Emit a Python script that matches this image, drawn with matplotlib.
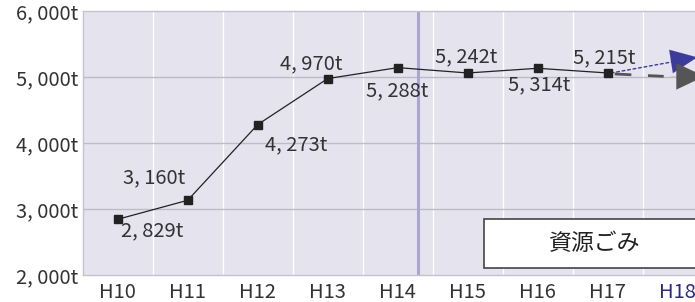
import numpy as np
import matplotlib
matplotlib.use("Agg")
import matplotlib.pyplot as plt
from matplotlib.patches import Rectangle

plt.rcParams['font.family'] = ['Noto Sans CJK JP', 'DejaVu Sans']

# データ
years = ['H10', 'H11', 'H12', 'H13', 'H14', 'H15', 'H16', 'H17', 'H18']
amount = [2844, 3132, 4279, 4976, 5142, 5061, 5132, 5061]
labels = ['2, 829t', '3, 160t', '4, 273t', '4, 970t', '5, 288t', '5, 242t', '5, 314t', '5, 215t']
label_offsets = [(34, -12), (-34, 22), (38, -20), (-16, 15), (-1, -23), (-2, 16), (1, -17), (-3, 15)]
yticks = [2000, 3000, 4000, 5000, 6000]
ytick_labels = ['2, 000t', '3, 000t', '4, 000t', '5, 000t', '6, 000t']
trend_up = 5298
trend_flat = 5010

fig = plt.figure(figsize=(6.95, 3.02), dpi=100)
ax = fig.add_axes([82.7 / 695, 27 / 302, 630 / 695, 264 / 302])
ax.set_facecolor('#e4e3ee')

x = np.arange(len(amount))
ax.set_xlim(-0.5, len(years) - 0.5)
ax.set_ylim(2000, 6000)

# グリッド
for b in np.arange(0.5, len(years), 1):
    ax.axvline(b, color='white', lw=1, zorder=1)
for v in yticks[1:-1]:
    ax.axhline(v, color='#bcbbc8', lw=1, zorder=1)
ax.axvline(4.29, color='#a9a7d2', lw=2.2, zorder=2)

for s in ['top', 'bottom', 'left']:
    ax.spines[s].set_color('#c4c3cc')
    ax.spines[s].set_linewidth(1)
ax.spines['right'].set_visible(False)

# 折れ線
ax.plot(x, amount, color='#222222', lw=0.9, marker='s', markersize=5.5, zorder=5)
for xi, yi, lab, off in zip(x, amount, labels, label_offsets):
    ax.annotate(lab, (xi, yi), xytext=off, textcoords='offset pixels',
                ha='center', va='center', fontsize=14.5, color='#333333', zorder=6)

# 予測矢印
ax.annotate('', xy=(8.28, trend_up), xytext=(7.05, amount[-1]),
            arrowprops=dict(arrowstyle='-', color='#3b3b9c', lw=1, linestyle=(0, (2, 2)),
                            shrinkA=0, shrinkB=15), zorder=4)
ax.annotate('', xy=(8.28, trend_up), xytext=(7.95, trend_up - 55),
            arrowprops=dict(arrowstyle='-|>,head_length=1.9,head_width=0.85', color='#3b3b9c',
                            lw=0.1, shrinkA=0, shrinkB=0), zorder=4)
ax.plot([7.1, 7.8], [amount[-1] - 15, trend_flat], color='#555555', lw=2,
        linestyle=(0, (6, 6)), zorder=4)
ax.annotate('', xy=(8.38, trend_flat), xytext=(7.9, trend_flat),
            arrowprops=dict(arrowstyle='-|>,head_length=2.0,head_width=0.95', color='#555555',
                            lw=0.1, shrinkA=0, shrinkB=0), zorder=4)

# 凡例ボックス
ax.add_patch(Rectangle((5.23, 2106), 3.5, 742, facecolor='white', edgecolor='#444444',
                       lw=1.2, zorder=7))
ax.text(6.81, 2470, '資源ごみ', ha='center', va='center', fontsize=16.5,
        color='#222222', zorder=8)

ax.set_xticks(np.arange(len(years)))
ax.set_xticklabels(years, fontsize=14.5, color='#333333')
ax.get_xticklabels()[-1].set_color('#2b2b80')
ax.set_yticks(yticks)
ax.set_yticklabels(ytick_labels, fontsize=14.5, color='#333333')
ax.tick_params(length=0, pad=3)
ax.tick_params(axis='x', pad=5)

fig.savefig('out.png', dpi=100)
